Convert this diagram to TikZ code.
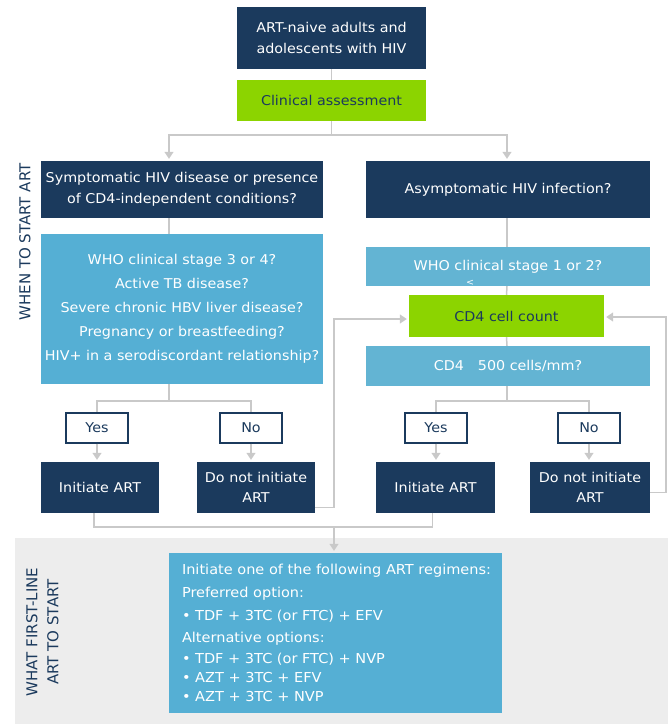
\documentclass[tikz,border=0pt]{standalone}
\usepackage{fontspec}
\setmainfont[FakeStretch=1.06]{DejaVu Sans}
\newfontfamily\sidefont{DejaVu Sans}
\usetikzlibrary{arrows.meta}
\usetikzlibrary{calc}

\definecolor{navy}{HTML}{1B3A5D}
\definecolor{limegreen}{HTML}{8CD400}
\definecolor{skyleft}{HTML}{55AFD4}
\definecolor{skyright}{HTML}{63B4D3}
\definecolor{linegray}{HTML}{C9C9C9}
\definecolor{panelgray}{HTML}{EDEDED}

\tikzset{
  darkbox/.style={fill=navy, text=white, align=center, inner sep=0pt},
  greenbox/.style={fill=limegreen, text=navy, align=center, inner sep=0pt},
  bluebox/.style={fill=skyright, text=white, align=center, inner sep=0pt},
  choicebox/.style={draw=navy, line width=2pt, fill=white, text=navy, inner sep=0pt, minimum width=62pt, minimum height=30pt},
  link/.style={draw=linegray, line width=1.5pt},
  flow/.style={link, -{Triangle[width=9pt,length=7pt]}, shorten >=2pt},
  sidelabel/.style={text=navy, rotate=90, align=center, font=\sidefont\fontsize{15}{21}\selectfont},
}

\begin{document}
\begin{tikzpicture}[x=1pt, y=-1pt, font=\fontsize{13.5}{20.5}\selectfont]
    \useasboundingbox (0,0) rectangle (668,724);
    % lower panel
    \fill [panelgray] (15,538) rectangle (668,724);
    % top of the chart
    \node [darkbox, minimum width=189pt, minimum height=62pt] (start) at (331.5,38) {ART-naive adults and\\adolescents with HIV};
    \node [greenbox, minimum width=189pt, minimum height=41pt] (assess) at (331.5,100.5) {Clinical assessment};
    \draw [link] (start) -- (assess);
    % left branch
    \node [darkbox, minimum width=282pt, minimum height=57pt] (sympt) at (182,189.5) {Symptomatic HIV disease or presence\\of CD4-independent conditions?};
    \node [bluebox, fill=skyleft, minimum width=282pt, minimum height=150pt] (cond) at (182,309) {WHO clinical stage 3 or 4?\\[3.5pt]Active TB disease?\\[3.5pt]Severe chronic HBV liver disease?\\[3.5pt]Pregnancy or breastfeeding?\\[3.5pt]HIV+ in a serodiscordant relationship?};
    \draw [link] ([xshift=-13pt]sympt.south) -- ([xshift=-13pt]cond.north);
    % right branch
    \node [darkbox, minimum width=284pt, minimum height=57pt] (asympt) at (508,189.5) {Asymptomatic HIV infection?};
    \node [bluebox, minimum width=284pt, minimum height=39pt] (stage) at (508,266.5) {WHO clinical stage 1 or 2?};
    \node [text=white, inner sep=0pt, font=\fontsize{9}{9}\selectfont] (stray) at (470,283) {<};
    \node [greenbox, minimum width=195pt, minimum height=42pt] (count) at (506.5,316) {CD4 cell count};
    \node [bluebox, minimum width=284pt, minimum height=40pt] (cdq) at (508,366) {CD4\hspace{14pt}500 cells/mm?};
    \draw [link] ([xshift=-1pt]asympt.south) -- ([xshift=-1pt]stage.north);
    \draw [link] ([xshift=-1pt]stage.south) -- (count.north);
    \draw [link] (count.south) -- ([xshift=-1pt]cdq.north);
    % split after assessment
    \coordinate (split) at (331.5,135);
    \draw [link] (assess) -- (split);
    \draw [flow] (split) -| ([xshift=-13pt]sympt.north);
    \draw [flow] (split) -| ([xshift=-1pt]asympt.north);
    % yes / no
    \node [choicebox] (yesL) at (97,427.5) {Yes};
    \node [choicebox] (noL) at (251,427.5) {No};
    \node [choicebox] (yesR) at (436,427.5) {Yes};
    \node [choicebox] (noR) at (589,427.5) {No};
    \coordinate (lfork) at (169,401);
    \coordinate (rfork) at (507,401);
    \draw [link] ([xshift=-13pt]cond.south) -- (lfork);
    \draw [link] (lfork) -| (yesL.north);
    \draw [link] (lfork) -| (noL.north);
    \draw [link] ([xshift=-1pt]cdq.south) -- (rfork);
    \draw [link] (rfork) -| (yesR.north);
    \draw [link] (rfork) -| (noR.north);
    % outcomes
    \node [darkbox, minimum width=118pt, minimum height=51pt] (initL) at (100,487.5) {Initiate ART};
    \node [darkbox, minimum width=118pt, minimum height=51pt] (skipL) at (256,487.5) {Do not initiate\\ART};
    \node [darkbox, minimum width=119pt, minimum height=51pt] (initR) at (435.5,487.5) {Initiate ART};
    \node [darkbox, minimum width=120pt, minimum height=51pt] (skipR) at (590,487.5) {Do not initiate\\ART};
    \draw [flow] (yesL.south) -- (yesL.south |- initL.north);
    \draw [flow] (noL.south) -- (noL.south |- skipL.north);
    \draw [flow] (yesR.south) -- (yesR.south |- initR.north);
    \draw [flow] (noR.south) -- (noR.south |- skipR.north);
    % back to CD4 count
    \draw [flow] ([yshift=-20pt]skipL.east) -- ++(19,0) |- ([yshift=-3pt]count.west);
    \draw [flow] ([yshift=-5pt]skipR.east) -- ++(16,0) |- ([yshift=-1pt]count.east);
    % regimens
    \node [bluebox, fill=skyleft, minimum width=333pt, minimum height=160pt] (regimen) at (335.5,633) {};
    \node [text=white, align=left, inner sep=0pt, anchor=west, font=\fontsize{13.7}{19}\selectfont] (regtext) at ([xshift=13pt]regimen.west) {Initiate one of the following ART regimens:\\[4pt]Preferred option:\\[3.5pt]\textbullet\ TDF + 3TC (or FTC) + EFV\\[3.5pt]Alternative options:\\[2pt]\textbullet\ TDF + 3TC (or FTC) + NVP\\\textbullet\ AZT + 3TC + EFV\\\textbullet\ AZT + 3TC + NVP};
    \coordinate (merge) at (334,527);
    \draw [link] ([xshift=-6pt]initL.south) |- (merge);
    \draw [link] ([xshift=-3pt]initR.south) |- (merge);
    \draw [flow] (merge) -- (merge |- regimen.north);
    % side labels
    \node [sidelabel] (whenlbl) at (25,242) {WHEN TO START ART};
    \node [sidelabel] (whatlbl) at (42.5,632) {WHAT FIRST-LINE\\ART TO START};
\end{tikzpicture}
\end{document}
